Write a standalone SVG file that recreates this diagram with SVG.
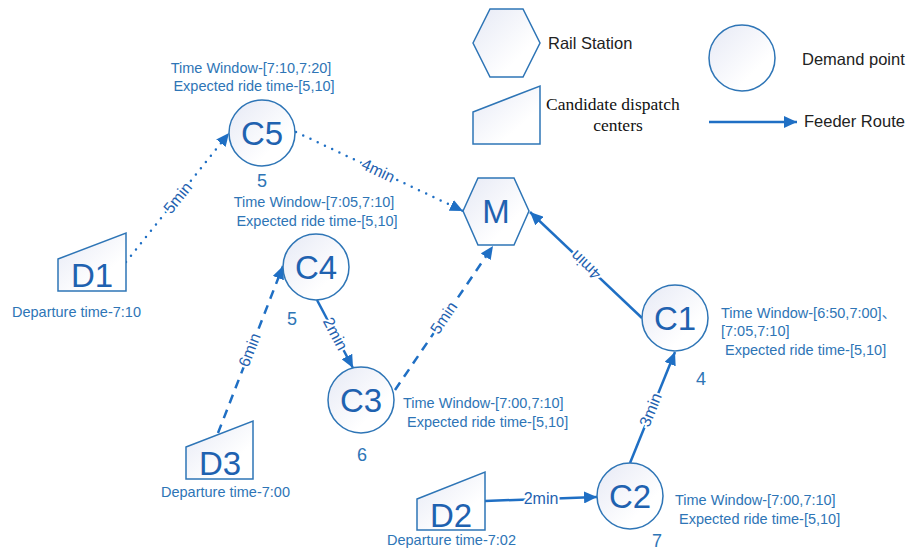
<svg xmlns="http://www.w3.org/2000/svg" width="912" height="552" viewBox="0 0 912 552">
<style>
.shape{fill:url(#g);stroke:#2e75b6;stroke-width:1.5}
.big{font-family:"Liberation Sans",Arial,sans-serif;font-size:33px;fill:#1f62b0;text-anchor:middle}
.small{font-family:"Liberation Sans",Arial,"Noto Sans CJK SC",sans-serif;font-size:14.5px;fill:#2e75b6}
.num{font-family:"Liberation Sans",Arial,sans-serif;font-size:18px;fill:#2e75b6;text-anchor:middle}
.lab{font-family:"Liberation Sans",Arial,sans-serif;font-size:16px;fill:#1f62b0;text-anchor:middle;stroke:#fff;stroke-width:4;paint-order:stroke}
.leg{font-family:"Liberation Sans",Arial,sans-serif;font-size:16.5px;fill:#222}
.legs{font-family:"Liberation Serif","Times New Roman",serif;font-size:17.5px;fill:#111}
.e{fill:none;stroke:#1f6fc4;stroke-width:2.5}
.dot{stroke-dasharray:0 8;stroke-linecap:round}
.dash{stroke-dasharray:9 7}
.mid{text-anchor:middle}
</style>
<defs>
<linearGradient id="g" x1="0" y1="0" x2="1" y2="1">
<stop offset="0" stop-color="#e6e9f5"/>
<stop offset="0.7" stop-color="#ffffff"/>
</linearGradient>
<marker id="a" markerUnits="userSpaceOnUse" markerWidth="14" markerHeight="12" refX="13" refY="6" orient="auto">
<path d="M0,0 L13,6 L0,12 Z" fill="#1f6fc4"/>
</marker>
</defs>

<g id="legend">
<polygon class="shape" points="473,43 490,9 523,9 540,43 523,77 490,77"/>
<text class="leg" x="548" y="49">Rail Station</text>
<circle class="shape" cx="742" cy="58" r="33"/>
<text class="leg" x="802" y="65">Demand point</text>
<polygon class="shape" points="473,112 540,86 540,144 473,144"/>
<text class="legs" x="546" y="110">Candidate dispatch</text>
<text class="legs" x="618" y="131" text-anchor="middle">centers</text>
<line class="e" x1="709" y1="122" x2="797" y2="122" stroke-width="2" marker-end="url(#a)"/>
<text class="leg" x="804" y="127">Feeder Route</text>
</g>

<g id="connectors">
<line class="e dot" x1="126" y1="262" x2="229" y2="133" marker-end="url(#a)"/>
<text class="lab" transform="translate(178,198) rotate(-51)" dy="5">5min</text>
<line class="e dot" x1="296" y1="132" x2="463" y2="211" marker-end="url(#a)"/>
<text class="lab" transform="translate(378,171) rotate(25.3)" dy="5">4min</text>
<line class="e dash" x1="218" y1="433" x2="283" y2="266" marker-end="url(#a)"/>
<text class="lab" transform="translate(250,350) rotate(-68.7)" dy="5">6min</text>
<line class="e" stroke-width="1.5" x1="317" y1="300" x2="353" y2="368" marker-end="url(#a)"/>
<text class="lab" transform="translate(335,334) rotate(62)" dy="5">2min</text>
<line class="e dash" x1="395" y1="390" x2="493" y2="246" marker-end="url(#a)"/>
<text class="lab" transform="translate(444,318) rotate(-55.8)" dy="5">5min</text>
<line class="e" x1="642" y1="318" x2="530" y2="212" marker-end="url(#a)"/>
<text class="lab" transform="translate(586,265) rotate(223.4)" dy="5">4min</text>
<line class="e" x1="630" y1="463" x2="675" y2="352" marker-end="url(#a)"/>
<text class="lab" transform="translate(651,410) rotate(-67.9)" dy="5">3min</text>
<line class="e" x1="485" y1="501" x2="597" y2="497" marker-end="url(#a)"/>
<text class="lab" x="541" y="504">2min</text>
</g>

<g id="M">
<polygon class="shape" points="463,211 478,178 514,178 529,211 514,245 478,245"/>
<text class="big" x="496" y="223">M</text>
</g>

<g id="C5">
<circle class="shape" cx="262" cy="133" r="33"/>
<text class="big" x="262" y="145">C5</text>
<text class="num" x="262" y="187">5</text>
<text class="small mid" x="251" y="73">Time Window-[7:10,7:20]</text>
<text class="small mid" x="254" y="91">Expected ride time-[5,10]</text>
</g>

<g id="C4">
<circle class="shape" cx="316" cy="267" r="33"/>
<text class="big" x="316" y="279">C4</text>
<text class="num" x="292" y="325">5</text>
<text class="small mid" x="314" y="207">Time Window-[7:05,7:10]</text>
<text class="small mid" x="317" y="226">Expected ride time-[5,10]</text>
</g>

<g id="C3">
<circle class="shape" cx="361" cy="400" r="33"/>
<text class="big" x="361" y="412">C3</text>
<text class="num" x="362" y="461">6</text>
<text class="small" x="403" y="408">Time Window-[7:00,7:10]</text>
<text class="small" x="407" y="427">Expected ride time-[5,10]</text>
</g>

<g id="C1">
<circle class="shape" cx="675" cy="318" r="33"/>
<text class="big" x="675" y="330">C1</text>
<text class="num" x="701" y="385">4</text>
<text class="small" x="721" y="318">Time Window-[6:50,7:00]、</text>
<text class="small" x="721" y="336">[7:05,7:10]</text>
<text class="small" x="725" y="355">Expected ride time-[5,10]</text>
</g>

<g id="C2">
<circle class="shape" cx="630" cy="496" r="33"/>
<text class="big" x="630" y="508">C2</text>
<text class="num" x="657" y="547">7</text>
<text class="small" x="675" y="505">Time Window-[7:00,7:10]</text>
<text class="small" x="679" y="524">Expected ride time-[5,10]</text>
</g>

<g id="D1">
<polygon class="shape" points="58,259 126,233 126,291 58,291"/>
<text class="big" x="92" y="287">D1</text>
<text class="small" x="12" y="317">Departure time-7:10</text>
</g>

<g id="D3">
<polygon class="shape" points="186,447 253,421 253,479 186,479"/>
<text class="big" x="220" y="475">D3</text>
<text class="small" x="161" y="497">Departure time-7:00</text>
</g>

<g id="D2">
<polygon class="shape" points="417,499 485,472 485,530 417,530"/>
<text class="big" x="451" y="527">D2</text>
<text class="small" x="387" y="545">Departure time-7:02</text>
</g>
</svg>
